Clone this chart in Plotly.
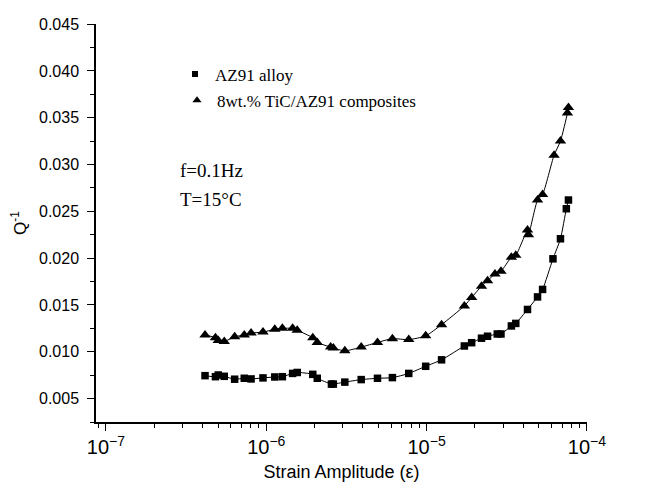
import plotly.graph_objects as go

# ---- data ----
az91_strain = [4.15e-7, 4.82e-7, 5.02e-7, 5.47e-7, 6.35e-7, 7.29e-7, 8.04e-7, 9.54e-7,
               1.13e-6, 1.26e-6, 1.46e-6, 1.56e-6, 1.95e-6, 2.08e-6, 2.55e-6, 2.62e-6,
               3.09e-6, 3.91e-6, 4.94e-6, 6.12e-6, 7.74e-6, 9.87e-6, 1.24e-5, 1.72e-5,
               1.91e-5, 2.20e-5, 2.40e-5, 2.76e-5, 2.91e-5, 3.38e-5, 3.60e-5, 4.26e-5,
               4.92e-5, 5.29e-5, 6.14e-5, 6.84e-5, 7.44e-5, 7.67e-5]
az91_q = [0.00745, 0.00734, 0.00752, 0.00738, 0.00707, 0.00717, 0.00710, 0.00721,
          0.00731, 0.00734, 0.00769, 0.00779, 0.00759, 0.00717, 0.00655, 0.00655,
          0.00676, 0.00703, 0.00717, 0.00724, 0.00769, 0.00845, 0.00914, 0.01062,
          0.01097, 0.01145, 0.01166, 0.01190, 0.01190, 0.01276, 0.01303, 0.01452,
          0.01586, 0.01666, 0.01993, 0.02207, 0.02528, 0.02621]

tic_strain = [4.15e-7, 4.82e-7, 5.02e-7, 5.47e-7, 6.35e-7, 7.29e-7, 8.04e-7, 9.54e-7,
              1.13e-6, 1.26e-6, 1.46e-6, 1.56e-6, 1.95e-6, 2.08e-6, 2.52e-6, 2.62e-6,
              3.09e-6, 3.91e-6, 4.94e-6, 6.12e-6, 7.74e-6, 9.87e-6, 1.24e-5, 1.72e-5,
              1.91e-5, 2.20e-5, 2.40e-5, 2.67e-5, 2.91e-5, 3.38e-5, 3.60e-5, 4.26e-5,
              4.32e-5, 4.92e-5, 5.29e-5, 6.24e-5, 6.84e-5, 7.56e-5, 7.67e-5]
tic_q = [0.0118, 0.0115, 0.0112, 0.0111, 0.0116, 0.0118, 0.0120, 0.0121,
         0.0124, 0.0125, 0.0125, 0.0123, 0.0115, 0.0110, 0.0105, 0.0104,
         0.0101, 0.0105, 0.0110, 0.0114, 0.0113, 0.0117, 0.0129, 0.0149,
         0.0158, 0.0170, 0.0176, 0.0183, 0.0186, 0.0201, 0.0203, 0.0230,
         0.0225, 0.0262, 0.0268, 0.0310, 0.0325, 0.0355, 0.0361]

series_names = ["AZ91 alloy", "8wt.% TiC/AZ91 composites"]
note_lines = ["f=0.1Hz", "T=15°C"]

x_range_log = [-7.062, -3.9995]
y_range = [0.0025, 0.04501]

serif = "Liberation Serif, Times New Roman, serif"
sans = "Liberation Sans, Arial, sans-serif"

ML, MR, MT, MB = 88, 84, 8, 75
PW, PH = 663 - ML - MR, 489 - MT - MB

fig = go.Figure()

fig.add_trace(go.Scatter(
    x=az91_strain, y=az91_q, mode="lines+markers", showlegend=False,
    line=dict(color="black", width=1, shape="spline", smoothing=0.6),
    marker=dict(symbol="square", size=7.5, color="black")))
fig.add_trace(go.Scatter(
    x=tic_strain, y=tic_q, mode="lines+markers", showlegend=False,
    line=dict(color="black", width=1, shape="spline", smoothing=0.6),
    marker=dict(symbol="triangle-up", size=10, color="black")))

# legend entries: marker symbol only, one legend box per entry for exact placement
fig.add_trace(go.Scatter(x=[None], y=[None], mode="markers", name=series_names[0],
                         legend="legend",
                         marker=dict(symbol="square", size=6, color="black")))
fig.add_trace(go.Scatter(x=[None], y=[None], mode="markers", name=series_names[1],
                         legend="legend2",
                         marker=dict(symbol="triangle-up", size=8, color="black")))

for i, t in enumerate(note_lines):
    fig.add_annotation(text=t, xref="paper", yref="paper",
                       x=(170 - ML) / PW, y=1 - (157 + 30 * i - MT) / PH,
                       xanchor="left", yanchor="middle", showarrow=False,
                       font=dict(family=serif, size=19, color="black"))

leg_common = dict(xanchor="left", yanchor="top", bgcolor="rgba(0,0,0,0)",
                  font=dict(family=serif, size=17, color="black"), itemwidth=30)

fig.update_layout(
    width=663, height=489,
    margin=dict(l=ML, r=MR, t=MT, b=MB),
    paper_bgcolor="white", plot_bgcolor="white",
    showlegend=True,
    legend=dict(x=(167 - ML) / PW, y=1 - (41 - MT) / PH, **leg_common),
    legend2=dict(x=(169 - ML) / PW, y=1 - (68 - MT) / PH, **leg_common),
    xaxis=dict(type="log", range=x_range_log, dtick=1, exponentformat="power",
               showgrid=False, zeroline=False, showline=True, linecolor="black", linewidth=1.5,
               ticks="outside", ticklen=7, tickwidth=1, tickcolor="black",
               tickfont=dict(family=sans, size=16, color="black"),
               minor=dict(ticks="outside", ticklen=4, tickwidth=1, tickcolor="black", dtick="D1", showgrid=False),
               title=dict(text="Strain Amplitude (ε)", font=dict(family=sans, size=18, color="black"), standoff=8)),
    yaxis=dict(range=y_range, tick0=0, dtick=0.005, tickformat=".3f",
               showgrid=False, zeroline=False, showline=True, linecolor="black", linewidth=1.5,
               ticks="outside", ticklen=7, tickwidth=1, tickcolor="black",
               ticklabelstandoff=5, ticklabeloverflow="allow",
               tickfont=dict(family=sans, size=16, color="black"),
               minor=dict(ticks="outside", ticklen=4, tickwidth=1, tickcolor="black", dtick=0.0025, tick0=0, showgrid=False),
               title=dict(text="Q<sup>-1</sup>", font=dict(family=sans, size=17, color="black"), standoff=8)),
)

fig.write_html("out.html")
